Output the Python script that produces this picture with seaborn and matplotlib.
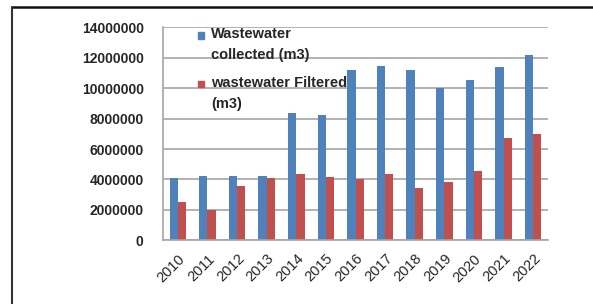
import matplotlib
matplotlib.use("Agg")
import matplotlib.pyplot as plt
import seaborn as sns
import pandas as pd
from matplotlib.patches import Rectangle
from matplotlib.lines import Line2D

years = ["2010", "2011", "2012", "2013", "2014", "2015", "2016",
         "2017", "2018", "2019", "2020", "2021", "2022"]
collected = [4130000, 4230000, 4220000, 4220000, 8370000, 8200000, 11150000,
             11460000, 11200000, 10000000, 10500000, 11370000, 12180000]
filtered = [2530000, 2030000, 3580000, 4070000, 4330000, 4160000, 4050000,
            4330000, 3430000, 3830000, 4570000, 6740000, 7000000]
series = ["Wastewater\ncollected (m3)", "wastewater Filtered\n(m3)"]
colors = ["#4F81BD", "#C0504D"]

df = pd.DataFrame({
    "year": years * 2,
    "value": collected + filtered,
    "series": [series[0]] * len(years) + [series[1]] * len(years),
})

sns.set_style("white")
plt.rcParams["font.family"] = ["Liberation Sans", "DejaVu Sans"]

fig = plt.figure(figsize=(5.93, 3.04), dpi=100)
ax = fig.add_axes([0.275, 0.209, 0.649, 0.702])

sns.barplot(data=df, x="year", y="value", hue="series",
            palette=colors, width=0.56, ax=ax,
            saturation=1, linewidth=0, legend=False)

ax.set_ylim(0, 14000000)
ax.set_yticks(range(0, 14000001, 2000000))
ax.set_yticklabels([str(v) for v in range(0, 14000001, 2000000)],
                   fontsize=10, fontweight="bold")
ax.set_xlim(-0.5, len(years) - 0.5)
ax.set_xticks(range(len(years)))
ax.set_xticklabels(years, rotation=45, fontsize=10.5, ha="right",
                   rotation_mode="anchor")
ax.tick_params(axis="y", length=4, color="#999999", pad=10)
ax.tick_params(axis="x", length=0, pad=8)
ax.set_xlabel("")
ax.set_ylabel("")
ax.yaxis.grid(True, color="#A6A6A6", linewidth=1.2)
ax.set_axisbelow(True)
for side in ["top", "right"]:
    ax.spines[side].set_visible(False)
for side in ["left", "bottom"]:
    ax.spines[side].set_color("#A6A6A6")
    ax.spines[side].set_linewidth(1.2)

# legend drawn by hand: the square sits next to the first line of each label
for (label, color, ytop) in zip(series, colors, [0.962, 0.733]):
    ax.add_patch(Rectangle((0.091, ytop - 0.016), 0.016, 0.03,
                           transform=ax.transAxes, color=color,
                           clip_on=False, zorder=5))
    ax.text(0.125, ytop + 0.037, label, transform=ax.transAxes,
            fontsize=10.5, fontweight="bold", va="top", ha="left",
            linespacing=1.65, zorder=5)

# outer frame of the original screenshot (top and left edges only)
fig.add_artist(Line2D([12 / 593, 1.0], [1 - 7 / 304, 1 - 7 / 304],
                      transform=fig.transFigure, color="#111111",
                      linewidth=1.8))
fig.add_artist(Line2D([12 / 593, 12 / 593], [0, 1 - 7 / 304],
                      transform=fig.transFigure, color="#333333",
                      linewidth=1.5))

fig.savefig("out.png", dpi=100)
